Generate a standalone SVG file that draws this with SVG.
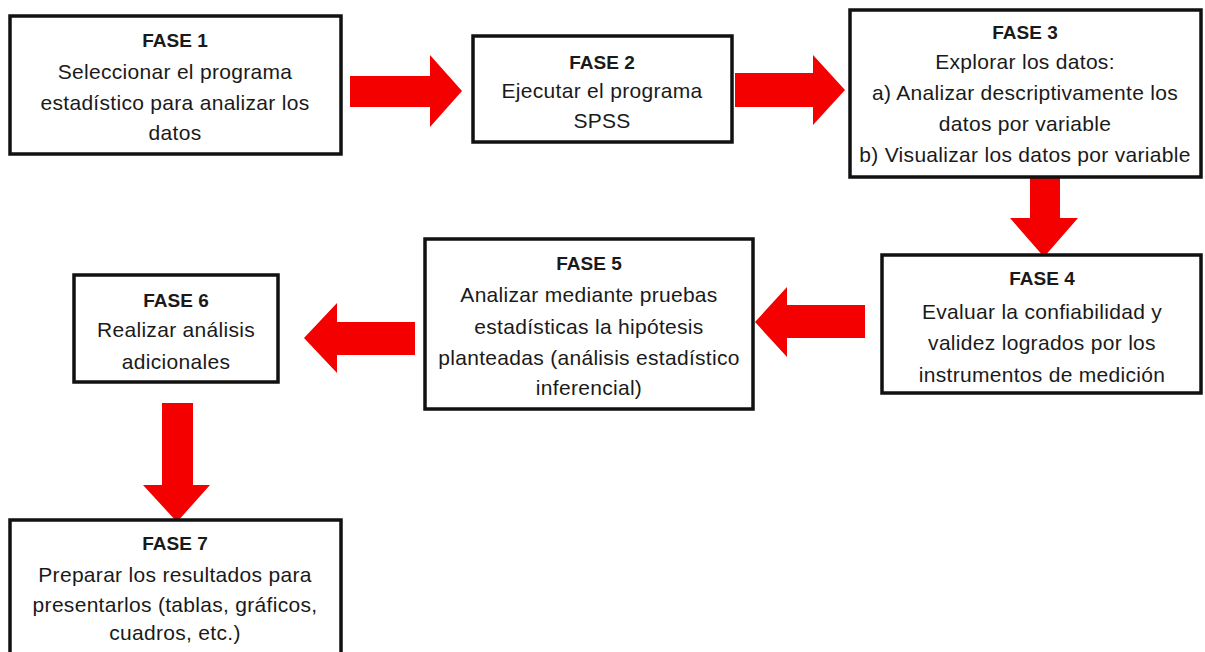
<svg xmlns="http://www.w3.org/2000/svg" width="1205" height="652" viewBox="0 0 1205 652">
<style>
.box{fill:#fff;stroke:#111;stroke-width:3.5}
.t{font-family:"Liberation Sans",Arial,sans-serif;font-size:21px;fill:#1a1a1a;text-anchor:middle;letter-spacing:0.3px}
.h{font-weight:bold;font-size:19px;letter-spacing:0}
.arr{fill:#f40000}
</style>
<rect width="1205" height="652" fill="#fff"/>
<g id="connectors">
<polygon class="arr" points="350,76 430,76 430,55 462,91 430,127 430,107 350,107"/>
<polygon class="arr" points="735,73 813,73 813,55 845,90 813,125 813,107 735,107"/>
<polygon class="arr" points="1030,178 1060,178 1060,218 1078,218 1044,257 1010,218 1030,218"/>
<polygon class="arr" points="865,305 787,305 787,287 755,322 787,357 787,338 865,338"/>
<polygon class="arr" points="415,322 337,322 337,303 304,338 337,373 337,355 415,355"/>
<polygon class="arr" points="162,403 193,403 193,485 210,485 177,522 143,485 162,485"/>
</g>
<g id="fase1">
<rect class="box" x="10" y="16" width="331" height="138"/>
<text class="t h" x="175" y="47">FASE 1</text>
<text class="t" x="175" y="79">Seleccionar el programa</text>
<text class="t" x="175" y="110">estadístico para analizar los</text>
<text class="t" x="175" y="140">datos</text>
</g>
<g id="fase2">
<rect class="box" x="473" y="36" width="259" height="106"/>
<text class="t h" x="602" y="69">FASE 2</text>
<text class="t" x="602" y="98">Ejecutar el programa</text>
<text class="t" x="602" y="128">SPSS</text>
</g>
<g id="fase3">
<rect class="box" x="850" y="10" width="351" height="167"/>
<text class="t h" x="1025" y="39">FASE 3</text>
<text class="t" x="1025" y="69">Explorar los datos:</text>
<text class="t" x="1025" y="100">a) Analizar descriptivamente los</text>
<text class="t" x="1025" y="131">datos por variable</text>
<text class="t" x="1025" y="162">b) Visualizar los datos por variable</text>
</g>
<g id="fase4">
<rect class="box" x="882" y="255" width="319" height="138"/>
<text class="t h" x="1042" y="285">FASE 4</text>
<text class="t" x="1042" y="319">Evaluar la confiabilidad y</text>
<text class="t" x="1042" y="350">validez logrados por los</text>
<text class="t" x="1042" y="382">instrumentos de medición</text>
</g>
<g id="fase5">
<rect class="box" x="425" y="239" width="328" height="170"/>
<text class="t h" x="589" y="270">FASE 5</text>
<text class="t" x="589" y="302">Analizar mediante pruebas</text>
<text class="t" x="589" y="334">estadísticas la hipótesis</text>
<text class="t" x="589" y="365">planteadas (análisis estadístico</text>
<text class="t" x="589" y="395">inferencial)</text>
</g>
<g id="fase6">
<rect class="box" x="74" y="275" width="204" height="107"/>
<text class="t h" x="176" y="307">FASE 6</text>
<text class="t" x="176" y="337">Realizar análisis</text>
<text class="t" x="176" y="369">adicionales</text>
</g>
<g id="fase7">
<rect class="box" x="10" y="520" width="331" height="145"/>
<text class="t h" x="175" y="550">FASE 7</text>
<text class="t" x="175" y="582">Preparar los resultados para</text>
<text class="t" x="175" y="612">presentarlos (tablas, gráficos,</text>
<text class="t" x="175" y="640">cuadros, etc.)</text>
</g>
</svg>
